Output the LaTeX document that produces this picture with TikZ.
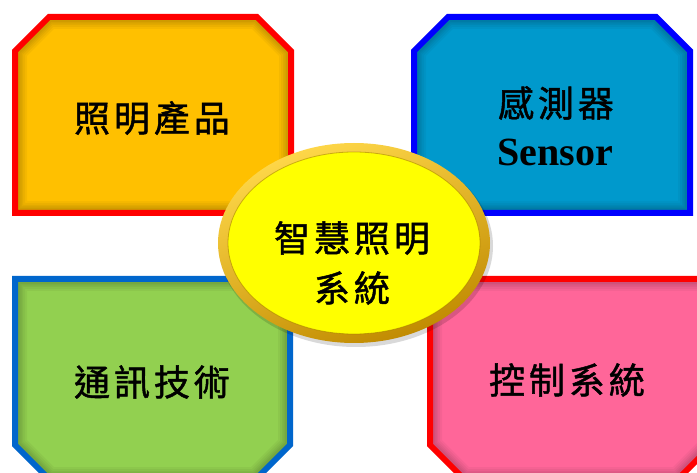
\documentclass[tikz,border=0pt]{standalone}
\usepackage{fontspec}
\newfontfamily\cjk[LetterSpace=11,FakeBold=1.3]{Noto Sans CJK TC}
\newfontfamily\latinbold{Liberation Serif Bold}
\definecolor{tlfill}{HTML}{FFC000}
\definecolor{trfill}{HTML}{0099CC}
\definecolor{blfill}{HTML}{92D050}
\definecolor{brfill}{HTML}{FF6699}
\definecolor{redb}{HTML}{FF0000}
\definecolor{blueb}{HTML}{0000FF}
\definecolor{midblue}{HTML}{0066CC}
\definecolor{ringlight}{HTML}{FFD84A}
\definecolor{ringdark}{HTML}{C08A00}
\definecolor{yel}{HTML}{FFFF00}
\newcommand\mybox[3]{%
  \fill[#1] #3;
  \begin{scope}
    \clip #3;
    \foreach \w in {24,20,16,13,10}{\draw[black,opacity=.04,line width=\w pt] #3;}
  \end{scope}
  \draw[#2,line width=6pt,line join=miter] #3;}
\tikzset{
  lbl/.style={font=\cjk\fontsize{36}{44}\selectfont, text=black, align=center, inner sep=0pt},
}
\begin{document}
\begin{tikzpicture}[x=1pt,y=-1pt]
\useasboundingbox (0,0) rectangle (697,473);
\clip (0,0) rectangle (697,473);
\fill[white] (0,0) rectangle (697,473);
% boxes
\mybox{tlfill}{redb}{(15,213) -- (15,51) -- (49,17) -- (257,17) -- (291,51) -- (291,213) -- cycle}
\mybox{trfill}{blueb}{(414,213) -- (414,51) -- (448,17) -- (656,17) -- (690,51) -- (690,213) -- cycle}
\mybox{blfill}{midblue}{(15,279) -- (290,279) -- (290,445) -- (256,479) -- (49,479) -- (15,445) -- cycle}
\mybox{brfill}{redb}{(430,279) -- (712,279) -- (712,445) -- (678,479) -- (464,479) -- (430,445) -- cycle}
% labels
\node[lbl] (t1) at (152,118) {照明產品};
\node[lbl] (t2) at (556,103) {感測器};
\node[font=\latinbold\fontsize{40}{44}\selectfont, inner sep=0pt] (t2b) at (555,152) {Sensor};
\node[lbl] (t3) at (152,382) {通訊技術};
\node[lbl] (t4) at (567,380) {控制系統};
% central ellipse
\fill[black,opacity=.15] (356,246) ellipse [x radius=137pt, y radius=101pt];
\shade[top color=ringlight, bottom color=ringdark, shading angle=20] (354,243) ellipse [x radius=136pt, y radius=100pt];
\fill[yel] (354,243) ellipse [x radius=126pt, y radius=91pt];
\draw[ringdark!80!black,opacity=.5,line width=0.8pt] (354,243) ellipse [x radius=126pt, y radius=91pt];
\node[lbl, text width=240pt] (c) at (352,263) {智慧照明\\[6pt]系統};
\end{tikzpicture}
\end{document}
